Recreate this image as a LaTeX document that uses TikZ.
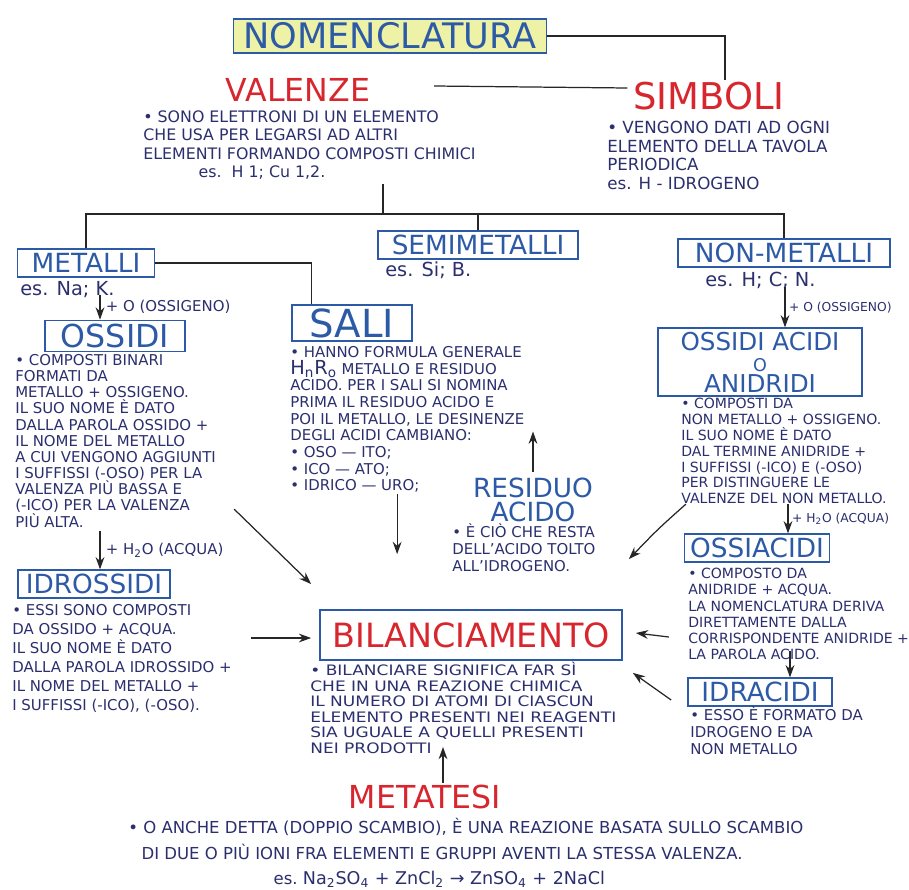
\documentclass[tikz,border=0pt]{standalone}
\usepackage{fontspec}
\setmainfont{DejaVu Sans}
\newfontfamily\widehand[FakeStretch=1.18]{DejaVu Sans}
\usetikzlibrary{arrows.meta,positioning,calc}
\definecolor{inkblue}{HTML}{2D5AA6}
\definecolor{inknavy}{HTML}{2B2F6E}
\definecolor{inkred}{HTML}{D7262E}
\definecolor{hilite}{HTML}{EEF2A6}

\tikzset{
  keybox/.style={draw=inkblue,line width=1pt,text=inkblue,inner sep=2pt,
    minimum height=0.55cm,font=\fontsize{15}{18}\selectfont},
  redtitle/.style={text=inkred,inner sep=1pt},
  note/.style={text=inknavy,align=left,anchor=north west,inner sep=0pt,
    font=\fontsize{8.5}{9.8}\selectfont},
  esnote/.style={note,font=\fontsize{11}{13}\selectfont},
  link/.style={draw=black!85,line width=0.7pt},
  arr/.style={link,-{Stealth[length=7pt,width=5pt]}},
  steplabel/.style={text=inknavy,right,inner sep=3pt,font=\fontsize{8.5}{10}\selectfont},
  smalllabel/.style={steplabel,inner sep=2pt,font=\fontsize{7}{8}\selectfont}
}

\begin{document}
\begin{tikzpicture}[x=0.02cm,y=-0.02cm]
  \fill[white] (0,0) rectangle (909,889);
  \useasboundingbox (0,0) rectangle (909,889);

  % titles
  \node[keybox,fill=hilite,minimum width=6.26cm,minimum height=0.68cm,
    font=\fontsize{20}{24}\selectfont] (nomen) at (390,36) {NOMENCLATURA};
  \node[redtitle,font=\fontsize{18}{20}\selectfont] (valenze) at (298,90) {VALENZE};
  \node[redtitle,font=\fontsize{21}{24}\selectfont] (simboli) at (709,96) {SIMBOLI};

  \node[note,font=\fontsize{9}{10.6}\selectfont] (valenote) at (143,110)
    {• SONO ELETTRONI DI UN ELEMENTO\\CHE USA PER LEGARSI AD ALTRI\\
     ELEMENTI FORMANDO COMPOSTI CHIMICI\\\hspace*{3.5em}es.\ \ H 1; Cu 1,2.};
  \node[note,font=\fontsize{9.5}{10.6}\selectfont] (simbnote) at (607,121)
    {• VENGONO DATI AD OGNI\\ELEMENTO DELLA TAVOLA\\PERIODICA\\es. H - IDROGENO};

  % second level
  \node[keybox,minimum width=2.74cm] (metalli) at (86,263) {METALLI};
  \node[keybox,minimum width=4cm] (semimet) at (478,245) {SEMIMETALLI};
  \node[keybox,minimum width=4.24cm] (nonmet) at (784,253) {NON-METALLI};
  \node[esnote] (metes) at (20,281) {es. Na; K.};
  \node[esnote] (semes) at (385,261) {es. Si; B.};
  \node[esnote] (nonmes) at (705,272) {es. H; C; N.};

  \coordinate (vtop) at (383,184);
  \coordinate (hub) at (383,214);
  \draw[link] (vtop) -- (hub);
  \draw[link] (metalli.north) |- (hub) -| (nonmet.north);
  \draw[link] (semimet.north) -- (semimet.north |- hub);
  \draw[link] (nomen.east) -| ($(simboli.north)+(16,0)$);
  \draw[link] ($(valenze.east)+(62,-4)$) -- ($(simboli.west)+(-4,-8)$);

  % metalli branch
  \node[keybox,minimum width=2.8cm,minimum height=0.58cm,
    font=\fontsize{18}{20}\selectfont] (ossidi) at (115,336) {OSSIDI};
  \node[note,font=\fontsize{8.5}{9.2}\selectfont] (ossnote) at (15,354)
    {• COMPOSTI BINARI\\FORMATI DA\\METALLO + OSSIGENO.\\IL SUO NOME È DATO\\
     DALLA PAROLA OSSIDO +\\IL NOME DEL METALLO\\A CUI VENGONO AGGIUNTI\\
     I SUFFISSI (-OSO) PER LA\\VALENZA PIÙ BASSA E\\(-ICO) PER LA VALENZA\\PIÙ ALTA.};
  \node[keybox,minimum width=3.04cm] (idrossidi) at (94,584) {IDROSSIDI};
  \node[note,font=\fontsize{8.5}{10.8}\selectfont] (idrosnote) at (12,604)
    {• ESSI SONO COMPOSTI\\DA OSSIDO + ACQUA.\\IL SUO NOME È DATO\\
     DALLA PAROLA IDROSSIDO +\\IL NOME DEL METALLO +\\I SUFFISSI (-ICO), (-OSO).};

  \draw[arr] ($(ossidi.north)+(-15,-25)$) -- node[steplabel] {+ O (OSSIGENO)} ($(ossidi.north)+(-15,0)$);
  \draw[arr] ($(idrossidi.north)+(6,-38)$) -- node[steplabel] {+ H\textsubscript{2}O (ACQUA)} ($(idrossidi.north)+(6,0)$);

  % sali
  \node[keybox,minimum width=2.4cm,minimum height=0.68cm,
    font=\fontsize{22}{24}\selectfont] (sali) at (352,323) {SALI};
  \draw[link] (metalli.east) -| ($(sali.north west)+(20,0)$);
  \node[note,font=\fontsize{8.5}{9.5}\selectfont] (salinote) at (290,346)
    {• HANNO FORMULA GENERALE\\{\fontsize{11}{11}\selectfont H\textsubscript{n}R\textsubscript{o}} METALLO E RESIDUO\\
     ACIDO. PER I SALI SI NOMINA\\PRIMA IL RESIDUO ACIDO E\\POI IL METALLO, LE DESINENZE\\
     DEGLI ACIDI CAMBIANO:\\• OSO — ITO;\\• ICO — ATO;\\• IDRICO — URO;};
  \node[align=center,text=inkblue,font=\fontsize{15}{14}\selectfont] (residuo) at (533,500)
    {RESIDUO\\ACIDO};
  \node[note] (resnote) at (452,523)
    {• È CIÒ CHE RESTA\\DELL'ACIDO TOLTO\\ALL'IDROGENO.};
  \draw[arr] (residuo.north) -- ($(residuo.north)+(0,-40)$);

  % non-metalli branch
  \node[keybox,minimum width=4.08cm,minimum height=1.3cm,align=center,
    font=\fontsize{14}{12}\selectfont] (ossidiacidi) at (760,362)
    {OSSIDI ACIDI\\{\fontsize{10}{10}\selectfont O}\\ANIDRIDI};
  \node[note,font=\fontsize{8}{9}\selectfont] (oanote) at (681,398)
    {• COMPOSTI DA\\NON METALLO + OSSIGENO.\\IL SUO NOME È DATO\\DAL TERMINE ANIDRIDE +\\
     I SUFFISSI (-ICO) E (-OSO)\\PER DISTINGUERE LE\\VALENZE DEL NON METALLO.};
  \node[keybox,minimum width=2.9cm] (ossiacidi) at (757,548) {OSSIACIDI};
  \node[note,font=\fontsize{8}{9.2}\selectfont] (oacnote) at (688,568)
    {• COMPOSTO DA\\ANIDRIDE + ACQUA.\\LA NOMENCLATURA DERIVA\\DIRETTAMENTE DALLA\\
     CORRISPONDENTE ANIDRIDE +\\LA PAROLA ACIDO.};
  \node[keybox,minimum width=2.88cm] (idracidi) at (760,692) {IDRACIDI};
  \node[note] (idranote) at (690,706)
    {• ESSO È FORMATO DA\\IDROGENO E DA\\NON METALLO};

  \draw[arr] ($(ossidiacidi.north)+(25,-40)$) -- node[smalllabel] {+ O (OSSIGENO)} ($(ossidiacidi.north)+(25,0)$);
  \draw[arr] ($(ossiacidi.north)+(31,-29)$) -- node[smalllabel] {+ H\textsubscript{2}O (ACQUA)} ($(ossiacidi.north)+(31,0)$);
  \draw[arr] ($(idracidi.north)+(30,-26)$) -- ($(idracidi.north)+(30,0)$);

  % bilanciamento
  \node[keybox,draw=inkblue,text=inkred,minimum width=6.04cm,minimum height=1cm,
    font=\fontsize{19}{22}\selectfont] (bil) at (471,635) {BILANCIAMENTO};
  \node[note,font=\widehand\fontsize{8.2}{8.8}\selectfont] (bilnote) at (310,662)
    {• BILANCIARE SIGNIFICA FAR SÌ\\CHE IN UNA REAZIONE CHIMICA\\IL NUMERO DI ATOMI DI CIASCUN\\
     ELEMENTO PRESENTI NEI REAGENTI\\SIA UGUALE A QUELLI PRESENTI\\NEI PRODOTTI};

  \draw[arr] ($(bil.north west)+(-85,-100)$) -- ($(bil.north west)+(-8,-25)$);
  \draw[arr] ($(bil.north west)+(78,-115)$) -- ($(bil.north west)+(78,-55)$);
  \draw[arr] ($(bil.west)+(-68,3)$) -- ($(bil.west)+(-8,3)$);
  \draw[arr] ($(bil.north east)+(63,-105)$) .. controls ($(bil.north east)+(35,-80)$) .. ($(bil.north east)+(6,-50)$);
  \draw[arr] ($(bil.east)+(46,2)$) -- ($(bil.east)+(13,-2)$);
  \draw[arr] ($(idracidi.west)+(-16,8)$) -- ($(bil.south east)+(10,12)$);

  % metatesi
  \node[redtitle,font=\fontsize{18}{20}\selectfont] (metatesi) at (425,797) {METATESI};
  \draw[arr] ($(metatesi.north)+(18,0)$) -- ($(metatesi.north)+(18,-36)$);
  \node[note,font=\fontsize{9.4}{14.5}\selectfont] (metanote) at (128,818)
    {• O ANCHE DETTA (DOPPIO SCAMBIO), È UNA REAZIONE BASATA SULLO SCAMBIO\\
     \hspace*{0.8em}DI DUE O PIÙ IONI FRA ELEMENTI E GRUPPI AVENTI LA STESSA VALENZA.\\
     \hspace*{8.8em}es.\ {\fontsize{10}{10}\selectfont Na\textsubscript{2}SO\textsubscript{4} + ZnCl\textsubscript{2} → ZnSO\textsubscript{4} + 2NaCl}};
\end{tikzpicture}
\end{document}
